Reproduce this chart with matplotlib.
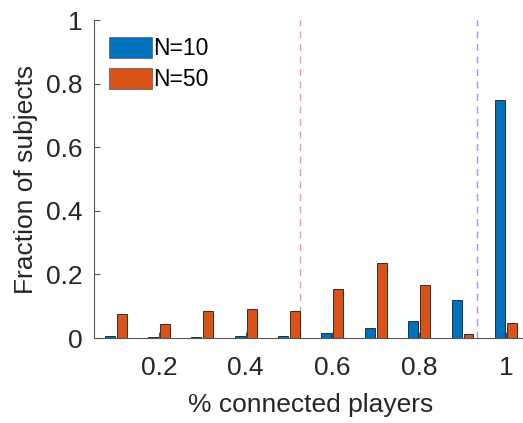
import numpy as np
import matplotlib.pyplot as plt

plt.rcParams['font.family'] = ['Liberation Sans', 'DejaVu Sans']

# fraction of connected players (bin centres)
bins = [0.1, 0.2, 0.3, 0.4, 0.5, 0.6, 0.7, 0.8, 0.9, 1.0]
frac_n10 = [0.007, 0.004, 0.004, 0.006, 0.006, 0.016, 0.032, 0.055, 0.121, 0.748]
frac_n50 = [0.074, 0.044, 0.086, 0.090, 0.084, 0.154, 0.237, 0.166, 0.013, 0.048]
thresh_n50 = 0.525
thresh_n10 = 0.934
xtick_vals = [0.2, 0.4, 0.6, 0.8, 1.0]
xtick_labels = ['0.2', '0.4', '0.6', '0.8', '1']
ytick_vals = [0, 0.2, 0.4, 0.6, 0.8, 1.0]
ytick_labels = ['0', '0.2', '0.4', '0.6', '0.8', '1']

blue = '#0072BD'
orange = '#D95319'
txt = '#262626'

fig = plt.figure(figsize=(5.23, 4.23), dpi=100)
ax = fig.add_axes([0.1797, 0.2009, 0.829, 0.7518])

x = np.array(bins)
bw = 0.023
off = 0.0138
ax.bar(x - off, frac_n10, bw, color=blue, edgecolor='#1a1a1a', linewidth=0.6, label='N=10', zorder=2)
ax.bar(x + off, frac_n50, bw, color=orange, edgecolor='#1a1a1a', linewidth=0.6, label='N=50', zorder=2)

ax.axvline(thresh_n50, color='#f08080', lw=1.0, ls=(0, (5, 4)), alpha=0.8, zorder=1)
ax.axvline(thresh_n10, color='#7f7fff', lw=1.0, ls=(0, (5, 4)), alpha=0.8, zorder=1)

ax.set_xlim(0.05, 1.05)
ax.set_ylim(0, 1)
ax.set_xticks(xtick_vals)
ax.set_xticklabels(xtick_labels)
ax.set_yticks(ytick_vals)
ax.set_yticklabels(ytick_labels)

for s in ['top', 'right']:
    ax.spines[s].set_visible(False)
for s in ['left', 'bottom']:
    ax.spines[s].set_color('#555555')
    ax.spines[s].set_linewidth(0.8)

ax.tick_params(direction='in', length=4, width=0.8, color='#555555',
               labelsize=19, labelcolor=txt)
ax.tick_params(axis='x', pad=13)
ax.tick_params(axis='y', pad=8)
ax.set_xlabel('% connected players', fontsize=19, color=txt, labelpad=9)
ax.set_ylabel('Fraction of subjects', fontsize=19, color=txt, labelpad=6)

leg = ax.legend(loc='upper left', bbox_to_anchor=(0.014, 0.975), frameon=False,
                fontsize=16.5, handlelength=1.85, handleheight=1.0,
                handletextpad=0.08, labelspacing=0.35, borderaxespad=0)
for h in leg.legend_handles:
    h.set_edgecolor('#666666')
for t in leg.get_texts():
    t.set_color('#000000')

fig.savefig('out.png', dpi=100)
